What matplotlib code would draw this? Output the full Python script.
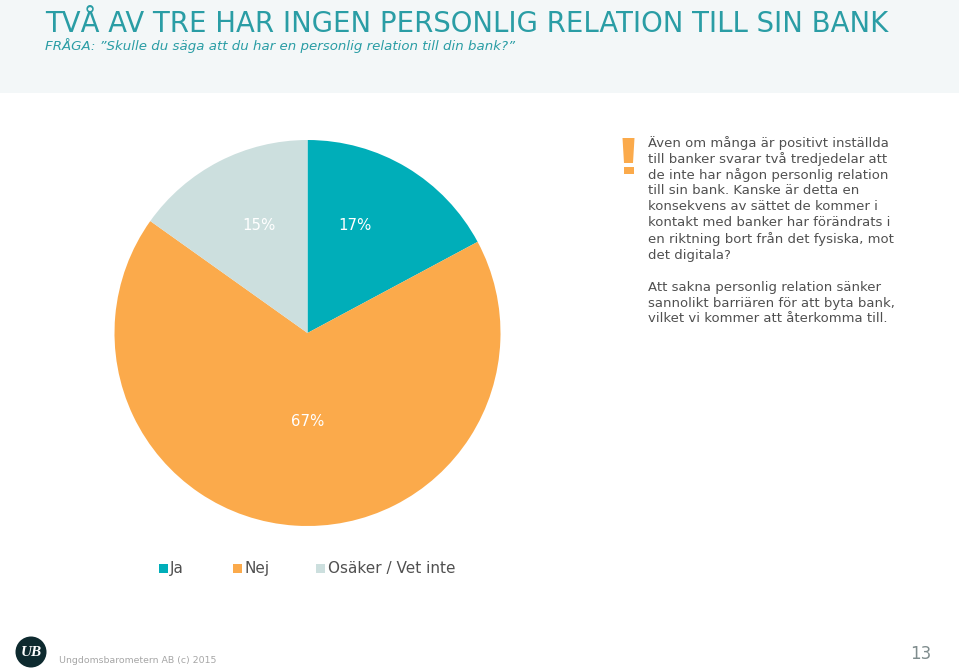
import matplotlib
matplotlib.use('Agg')
import matplotlib.pyplot as plt
from matplotlib.patches import Rectangle, Circle, Polygon

W, H = 959, 671

# data
labels = ['Ja', 'Nej', 'Osäker / Vet inte']
values = [17, 67, 15]
colors = ['#00AEB9', '#FBAA4B', '#CCDFDE']

title = 'TVÅ AV TRE HAR INGEN PERSONLIG RELATION TILL SIN BANK'
subtitle = 'FRÅGA: ”Skulle du säga att du har en personlig relation till din bank?”'
body1 = ['Även om många är positivt inställda',
         'till banker svarar två tredjedelar att',
         'de inte har någon personlig relation',
         'till sin bank. Kanske är detta en',
         'konsekvens av sättet de kommer i',
         'kontakt med banker har förändrats i',
         'en riktning bort från det fysiska, mot',
         'det digitala?']
body2 = ['Att sakna personlig relation sänker',
         'sannolikt barriären för att byta bank,',
         'vilket vi kommer att återkomma till.']

TEAL = '#2A9DA5'
GREY = '#505050'

fig = plt.figure(figsize=(W / 100, H / 100), dpi=100, facecolor='white')

# pie
cx, cy, r = 307.5, 333, 193
ax = fig.add_axes([(cx - r) / W, 1 - (cy + r) / H, 2 * r / W, 2 * r / H])
wedges, _ = ax.pie(values, colors=colors, startangle=90, counterclock=False, radius=1)
ax.set_xlim(-1, 1)
ax.set_ylim(-1, 1)

# overlay in pixel coordinates, y pointing down
bg = fig.add_axes([0, 0, 1, 1])
bg.set_xlim(0, W)
bg.set_ylim(H, 0)
bg.axis('off')
bg.patch.set_alpha(0)

bg.add_patch(Rectangle((0, 0), W, 93, color='#F3F7F8', lw=0))
bg.text(45, 31.5, title, fontsize=19.85, color=TEAL, va='baseline')
bg.text(45, 50, subtitle, fontsize=9.6, color=TEAL, style='italic', va='baseline')

for x, y, v in zip([355, 307.5, 259], [225, 421, 225], values):
    bg.text(x, y, f'{v}%', fontsize=10.8, color='white', ha='center', va='center')

# exclamation mark
bg.add_patch(Polygon([(622.5, 138), (634.5, 138), (633, 163), (624, 163)],
                     color='#FBAA4B', lw=0))
bg.add_patch(Rectangle((623.5, 167), 10.5, 7, color='#FBAA4B', lw=0))

# text block
for i, line in enumerate(body1):
    bg.text(648, 143 + i * 16, line, fontsize=9.57, color=GREY, va='center')
for i, line in enumerate(body2):
    bg.text(648, 287 + i * 16, line, fontsize=9.57, color=GREY, va='center')

# legend
for x, tx, name, c in zip([159, 233, 316], [170, 245, 328], labels, colors):
    bg.add_patch(Rectangle((x, 564), 9, 9, color=c, lw=0))
    bg.text(tx, 568.5, name, fontsize=11, color=GREY, va='center')

# footer
bg.add_patch(Circle((31, 652), 15.5, color='#0E2A2F', lw=0))
bg.text(31, 652, 'UB', fontsize=11, color='white', style='italic', weight='bold',
        family='Liberation Serif', ha='center', va='center')
bg.text(59, 660.5, 'Ungdomsbarometern AB (c) 2015', fontsize=6.75, color='#A6A6A6', va='center')
bg.text(921, 654, '13', fontsize=12, color='#7F8C8D', ha='center', va='center')

fig.savefig('out.png', dpi=100)
